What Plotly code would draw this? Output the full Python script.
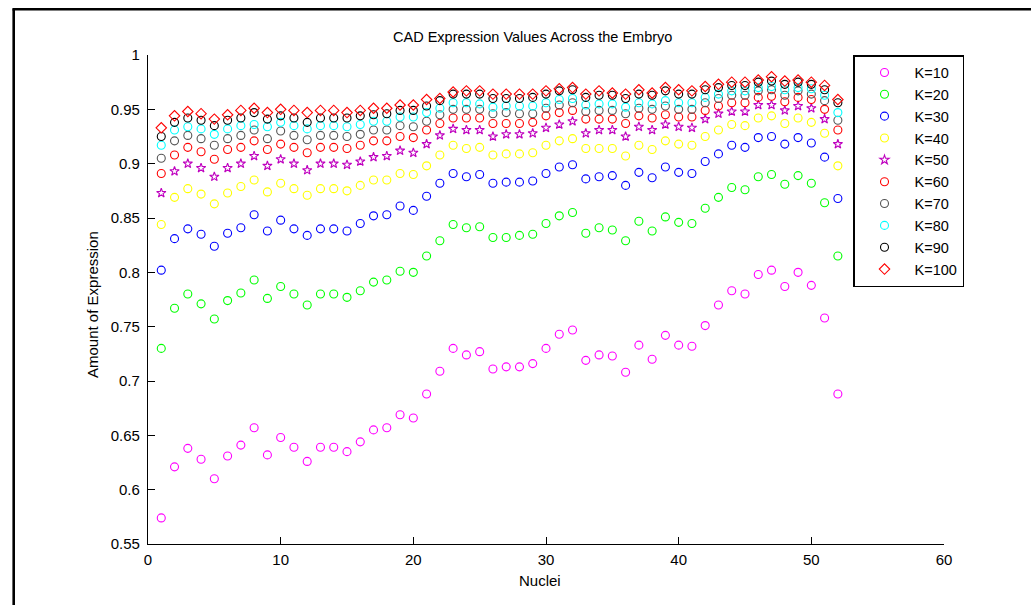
import plotly.graph_objects as go

# Nucleus index along the embryo
nuclei = list(range(1, 53))

# Expression values for each K
k10 = [0.574, 0.621, 0.638, 0.628, 0.610, 0.631, 0.641, 0.657, 0.632, 0.648,
       0.639, 0.626, 0.639, 0.639, 0.635, 0.644, 0.655, 0.657, 0.669, 0.666,
       0.688, 0.709, 0.730, 0.724, 0.727, 0.711, 0.713, 0.713, 0.716, 0.730,
       0.743, 0.747, 0.719, 0.724, 0.723, 0.708, 0.733, 0.720, 0.742, 0.733,
       0.732, 0.751, 0.770, 0.783, 0.780, 0.798, 0.802, 0.787, 0.800, 0.788,
       0.758, 0.688]
k20 = [0.730, 0.767, 0.780, 0.771, 0.757, 0.774, 0.781, 0.793, 0.776, 0.787,
       0.780, 0.770, 0.780, 0.780, 0.777, 0.783, 0.791, 0.793, 0.801, 0.800,
       0.815, 0.829, 0.844, 0.841, 0.842, 0.832, 0.832, 0.834, 0.835, 0.845,
       0.852, 0.855, 0.836, 0.841, 0.839, 0.829, 0.847, 0.838, 0.851, 0.846,
       0.845, 0.859, 0.869, 0.878, 0.876, 0.888, 0.890, 0.881, 0.889, 0.882,
       0.864, 0.815]
k30 = [0.802, 0.831, 0.840, 0.835, 0.824, 0.836, 0.841, 0.853, 0.838, 0.848,
       0.840, 0.834, 0.840, 0.840, 0.838, 0.845, 0.852, 0.853, 0.861, 0.857,
       0.870, 0.882, 0.891, 0.888, 0.890, 0.882, 0.883, 0.883, 0.884, 0.891,
       0.897, 0.899, 0.886, 0.888, 0.889, 0.880, 0.892, 0.887, 0.897, 0.892,
       0.891, 0.902, 0.909, 0.917, 0.915, 0.924, 0.925, 0.918, 0.924, 0.919,
       0.906, 0.868]
k40 = [0.844, 0.869, 0.877, 0.872, 0.863, 0.873, 0.879, 0.885, 0.874, 0.882,
       0.877, 0.871, 0.877, 0.877, 0.875, 0.880, 0.885, 0.885, 0.891, 0.890,
       0.898, 0.908, 0.917, 0.914, 0.915, 0.908, 0.909, 0.909, 0.910, 0.917,
       0.921, 0.923, 0.914, 0.914, 0.914, 0.907, 0.917, 0.913, 0.921, 0.918,
       0.917, 0.925, 0.931, 0.936, 0.935, 0.942, 0.944, 0.937, 0.942, 0.938,
       0.928, 0.898]
k50 = [0.873, 0.893, 0.900, 0.896, 0.888, 0.896, 0.900, 0.907, 0.898, 0.904,
       0.900, 0.894, 0.900, 0.900, 0.899, 0.902, 0.906, 0.907, 0.912, 0.910,
       0.918, 0.926, 0.932, 0.931, 0.931, 0.925, 0.927, 0.927, 0.928, 0.933,
       0.936, 0.939, 0.928, 0.931, 0.931, 0.925, 0.934, 0.931, 0.936, 0.934,
       0.933, 0.941, 0.946, 0.948, 0.948, 0.954, 0.954, 0.949, 0.953, 0.951,
       0.941, 0.918]
k60 = [0.891, 0.908, 0.915, 0.911, 0.904, 0.913, 0.915, 0.921, 0.913, 0.918,
       0.915, 0.910, 0.915, 0.915, 0.914, 0.917, 0.921, 0.921, 0.925, 0.924,
       0.931, 0.937, 0.942, 0.942, 0.942, 0.937, 0.937, 0.937, 0.938, 0.944,
       0.947, 0.949, 0.941, 0.941, 0.941, 0.937, 0.944, 0.942, 0.945, 0.943,
       0.943, 0.949, 0.953, 0.956, 0.956, 0.961, 0.962, 0.957, 0.961, 0.959,
       0.950, 0.931]
k70 = [0.905, 0.921, 0.926, 0.923, 0.917, 0.923, 0.926, 0.931, 0.923, 0.930,
       0.926, 0.922, 0.926, 0.926, 0.925, 0.927, 0.931, 0.931, 0.935, 0.934,
       0.939, 0.945, 0.950, 0.950, 0.950, 0.946, 0.947, 0.946, 0.946, 0.951,
       0.954, 0.956, 0.948, 0.949, 0.949, 0.946, 0.951, 0.950, 0.953, 0.950,
       0.950, 0.956, 0.960, 0.963, 0.963, 0.967, 0.968, 0.963, 0.967, 0.964,
       0.958, 0.940]
k80 = [0.917, 0.931, 0.934, 0.932, 0.927, 0.932, 0.935, 0.936, 0.934, 0.938,
       0.935, 0.932, 0.935, 0.935, 0.934, 0.936, 0.939, 0.939, 0.943, 0.943,
       0.947, 0.951, 0.956, 0.956, 0.955, 0.952, 0.953, 0.953, 0.953, 0.956,
       0.959, 0.960, 0.954, 0.955, 0.955, 0.952, 0.956, 0.955, 0.958, 0.956,
       0.956, 0.961, 0.964, 0.967, 0.967, 0.970, 0.971, 0.968, 0.970, 0.969,
       0.963, 0.947]
k90 = [0.925, 0.938, 0.942, 0.940, 0.935, 0.940, 0.942, 0.947, 0.941, 0.944,
       0.942, 0.938, 0.942, 0.942, 0.942, 0.944, 0.945, 0.946, 0.949, 0.949,
       0.953, 0.958, 0.964, 0.964, 0.964, 0.960, 0.960, 0.960, 0.961, 0.964,
       0.967, 0.968, 0.961, 0.963, 0.963, 0.960, 0.964, 0.963, 0.967, 0.964,
       0.964, 0.968, 0.970, 0.972, 0.972, 0.975, 0.976, 0.973, 0.975, 0.973,
       0.968, 0.956]
k100 = [0.933, 0.944, 0.948, 0.946, 0.941, 0.945, 0.949, 0.951, 0.947, 0.950,
        0.949, 0.947, 0.949, 0.949, 0.947, 0.949, 0.951, 0.951, 0.954, 0.954,
        0.959, 0.960, 0.966, 0.967, 0.967, 0.964, 0.964, 0.964, 0.964, 0.967,
        0.969, 0.970, 0.964, 0.967, 0.965, 0.964, 0.968, 0.965, 0.970, 0.968,
        0.967, 0.971, 0.973, 0.975, 0.975, 0.977, 0.980, 0.976, 0.977, 0.975,
        0.972, 0.959]

series_names = ["K=10", "K=20", "K=30", "K=40", "K=50",
                "K=60", "K=70", "K=80", "K=90", "K=100"]
series_values = [k10, k20, k30, k40, k50, k60, k70, k80, k90, k100]
series_colors = ["#FF00FF", "#00FF00", "#0000FF", "#FFFF00", "#BF00BF",
                 "#FF0000", "#555555", "#00FFFF", "#000000", "#FF0000"]
series_symbols = ["circle-open"] * 4 + ["star-open"] + ["circle-open"] * 4 + ["diamond-open"]
series_sizes = [8, 8, 8, 8, 7, 8, 8, 8, 8, 8]

x_ticks = [0, 10, 20, 30, 40, 50, 60]
y_ticks = [0.55, 0.6, 0.65, 0.7, 0.75, 0.8, 0.85, 0.9, 0.95, 1.0]
y_labels = ["0.55", "0.6", "0.65", "0.7", "0.75", "0.8", "0.85", "0.9", "0.95", "1"]

FONT = "Liberation Sans, Arial, sans-serif"

fig = go.Figure()
for name, vals, col, sym, sz in zip(series_names, series_values, series_colors,
                                    series_symbols, series_sizes):
    fig.add_trace(go.Scatter(
        x=nuclei, y=vals, name=name, mode="markers",
        marker=dict(symbol=sym, size=sz, color=col, line=dict(color=col, width=1.1)),
    ))

# plot area: 148..944 px horizontally, 55..544 px vertically
W, H = 1031, 605
L, R, T, B = 148, 87, 55, 61
pw, ph = W - L - R, H - T - B


def px(xp):
    return (xp - L) / pw


def py(yp):
    return (H - B - yp) / ph


axis_common = dict(
    showline=True, linecolor="black", linewidth=1.2, mirror=False,
    ticks="inside", ticklen=7, tickwidth=1.2, tickcolor="black",
    showgrid=False, zeroline=False,
    tickfont=dict(family=FONT, size=15, color="black"),
)

fig.update_layout(
    width=W, height=H,
    margin=dict(l=L, r=R, t=T, b=B, pad=0),
    paper_bgcolor="white", plot_bgcolor="white",
    font=dict(family=FONT, size=15, color="black"),
    xaxis=dict(range=[0, 60], tickvals=x_ticks, ticktext=[str(v) for v in x_ticks],
               ticklabelstandoff=2, **axis_common),
    yaxis=dict(range=[0.55, 1.0], tickvals=y_ticks, ticktext=y_labels,
               ticklabelstandoff=4, **axis_common),
    showlegend=True,
    legend=dict(
        x=px(853), y=1.0, xanchor="left", yanchor="top",
        bordercolor="black", borderwidth=1.5, bgcolor="white",
        font=dict(family=FONT, size=14.5, color="black"),
        itemwidth=50, tracegroupgap=0,
    ),
    annotations=[
        dict(text="CAD Expression Values Across the Embryo", x=px(532), y=py(37),
             xref="paper", yref="paper", showarrow=False, xanchor="center",
             yanchor="middle", font=dict(family=FONT, size=14.5, color="black")),
        dict(text="Nuclei", x=px(540), y=py(580), xref="paper", yref="paper",
             showarrow=False, xanchor="center", yanchor="middle",
             font=dict(family=FONT, size=15, color="black")),
        dict(text="Amount of Expression", x=px(92), y=py(305), xref="paper",
             yref="paper", showarrow=False, textangle=-90, xanchor="center",
             yanchor="middle", font=dict(family=FONT, size=15, color="black")),
    ],
    shapes=[
        # page frame along the left and top edges
        dict(type="line", xref="paper", yref="paper", x0=px(13.7), x1=px(13.7),
             y0=py(H + 5), y1=py(9.2), line=dict(color="black", width=2.6)),
        dict(type="line", xref="paper", yref="paper", x0=px(12.4), x1=px(W + 5),
             y0=py(9.2), y1=py(9.2), line=dict(color="black", width=2.6)),
    ],
)

fig.write_html("out.html")
